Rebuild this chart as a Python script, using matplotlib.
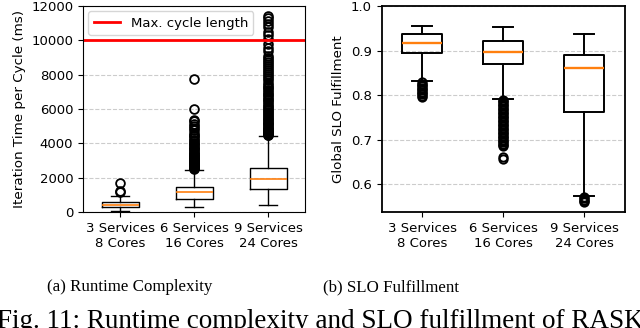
import matplotlib
matplotlib.use("Agg")
import matplotlib.pyplot as plt

# categories
labels = ["3 Services\n8 Cores", "6 Services\n16 Cores", "9 Services\n24 Cores"]

# (a) runtime per cycle (ms), box statistics
rt_whislo = [70, 265, 420]
rt_q1 = [290, 760, 1315]
rt_med = [410, 1140, 1915]
rt_q3 = [595, 1480, 2555]
rt_whishi = [905, 2475, 4435]
rt_fliers = [
    [1180, 1250, 1680],
    [2520, 2540, 2560, 2580, 2610, 2640, 2670, 2700, 2740, 2780, 2820, 2860,
     2900, 2950, 3000, 3050, 3100, 3160, 3220, 3280, 3340, 3400, 3460, 3520,
     3590, 3660, 3730, 3800, 3880, 3960, 4040, 4120, 4200, 4300, 4400, 4500,
     4620, 4750, 4880, 5000, 5150, 5280, 5350, 6000, 7750],
    [4460, 4500, 4540, 4590, 4640, 4690, 4740, 4800, 4860, 4920, 4980, 5050,
     5120, 5190, 5260, 5340, 5420, 5500, 5580, 5660, 5740, 5830, 5920, 6010,
     6100, 6200, 6300, 6400, 6500, 6600, 6700, 6800, 6900, 7000, 7100, 7200,
     7300, 7420, 7540, 7660, 7780, 7900, 8020, 8140, 8260, 8380, 8500, 8620,
     8740, 8860, 8980, 9100, 9350, 9550, 9800, 10050, 10300, 10500, 10750,
     10950, 11150, 11300, 11400],
]
max_cycle = 10000

# (b) global SLO fulfillment, box statistics
slo_whislo = [0.831, 0.792, 0.574]
slo_q1 = [0.895, 0.871, 0.763]
slo_med = [0.916, 0.897, 0.862]
slo_q3 = [0.938, 0.922, 0.891]
slo_whishi = [0.956, 0.952, 0.938]
slo_fliers = [
    [0.829, 0.826, 0.823, 0.820, 0.817, 0.814, 0.811, 0.808, 0.805, 0.802,
     0.799, 0.797],
    [0.790, 0.787, 0.784, 0.781, 0.778, 0.775, 0.772, 0.769, 0.766, 0.763,
     0.760, 0.757, 0.754, 0.751, 0.748, 0.745, 0.742, 0.739, 0.736, 0.733,
     0.730, 0.727, 0.724, 0.721, 0.718, 0.715, 0.712, 0.709, 0.706, 0.703,
     0.700, 0.697, 0.694, 0.691, 0.688, 0.686, 0.661, 0.657],
    [0.572, 0.569, 0.566, 0.563, 0.561],
]


def make_stats(lo, q1, med, q3, hi, fl):
    stats = []
    for i in range(len(med)):
        stats.append(dict(whislo=lo[i], q1=q1[i], med=med[i], q3=q3[i],
                          whishi=hi[i], fliers=fl[i]))
    return stats


def draw_box(ax, stats, lw, ms, mew):
    ax.bxp(stats, positions=[1, 2, 3], widths=0.5, showfliers=True,
           boxprops=dict(color="black", linewidth=lw),
           whiskerprops=dict(color="black", linewidth=lw),
           capprops=dict(color="black", linewidth=lw),
           medianprops=dict(color="#ff7f0e", linewidth=lw * 1.2),
           flierprops=dict(marker="o", markerfacecolor="none",
                           markeredgecolor="black", markersize=ms,
                           markeredgewidth=mew))
    ax.set_xticks([1, 2, 3])
    ax.set_xticklabels(labels)
    ax.set_xlim(0.5, 3.5)
    ax.yaxis.grid(True, linestyle="--", color="#cccccc", linewidth=0.8)
    ax.set_axisbelow(True)
    ax.tick_params(labelsize=9.5)


plt.rcParams["font.family"] = "DejaVu Sans"
fig = plt.figure(figsize=(6.4, 3.28), dpi=100)

ax1 = fig.add_axes([0.1297, 0.3537, 0.347, 0.628])
draw_box(ax1, make_stats(rt_whislo, rt_q1, rt_med, rt_q3, rt_whishi, rt_fliers), 1.0, 6.3, 1.3)
ax1.axhline(max_cycle, color="red", linewidth=2, label="Max. cycle length")
ax1.set_ylim(0, 12000)
ax1.set_yticks([0, 2000, 4000, 6000, 8000, 10000, 12000])
ax1.set_ylabel("Iteration Time per Cycle (ms)", fontsize=9.7)
ax1.legend(loc="upper left", fontsize=9.5, handlelength=2.0, borderaxespad=0.4)

ax2 = fig.add_axes([0.5964, 0.3537, 0.3797, 0.628])
draw_box(ax2, make_stats(slo_whislo, slo_q1, slo_med, slo_q3, slo_whishi, slo_fliers), 1.4, 6.0, 1.4)
ax2.set_ylim(0.538, 1.0)
ax2.set_yticks([0.6, 0.7, 0.8, 0.9, 1.0])
ax2.set_ylabel("Global SLO Fulfillment", fontsize=9.6)
for sp in ax2.spines.values():
    sp.set_linewidth(1.3)

serif = ["Liberation Serif", "DejaVu Serif"]
fig.text(0.202, 0.113, "(a) Runtime Complexity", ha="center", va="baseline",
         fontsize=12.2, family=serif)
fig.text(0.611, 0.113, "(b) SLO Fulfillment", ha="center", va="baseline",
         fontsize=12.2, family=serif)
fig.text(0.5, 0.0, "Fig. 11: Runtime complexity and SLO fulfillment of RASK",
         ha="center", va="baseline", fontsize=19.5, family=serif)

fig.savefig("out.png", dpi=100)
